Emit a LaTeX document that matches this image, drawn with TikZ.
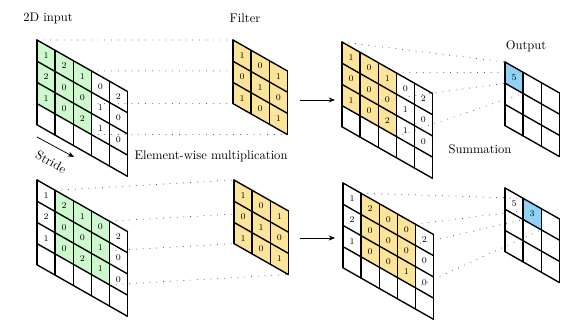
\documentclass[tikz,border=0pt]{standalone}
\usepackage{tikz}
\usetikzlibrary{arrows.meta,positioning,calc,backgrounds}
\definecolor{cellgreen}{RGB}{198,247,198}
\definecolor{cellyellow}{RGB}{251,224,136}
\definecolor{cellblue}{RGB}{126,203,246}
\definecolor{dotgray}{RGB}{55,55,65}

\tikzset{
  slant/.style={x={(18.1*0.28mm,-10.3*0.28mm)}, y={(0mm,-21.2*0.28mm)}},
  gridline/.style={line width=1.1pt, line cap=round},
  cell/.style={fill opacity=0.85},
  proj/.style={line width=0.75pt, dash pattern=on 0pt off 5.4pt, line cap=round, dotgray},
  num/.style={font=\scriptsize, inner sep=0pt},
  title/.style={inner sep=0pt},
  flow/.style={-{Stealth[length=5pt,width=4pt]}, line width=0.6pt},
}
% grid helpers, used inside a slant scope
\newcommand{\gridlines}[2]{%
  \foreach \i in {0,...,#1} \draw[gridline] (\i,0) -- (\i,#2);
  \foreach \j in {0,...,#2} \draw[gridline] (0,\j) -- (#1,\j);
}
\newcommand{\fillcells}[3]{%
  \foreach \i in {#2} \foreach \j in {#3}
    \fill[#1, cell] (\i,\j) -- ++(1,0) -- ++(0,1) -- ++(-1,0) -- cycle;
}
\newcommand{\cellnums}[2]{%
  \foreach \row [count=\j from 0] in {#2}
    \foreach \v [count=\i from 0] in \row
      \node[num] (#1-\i-\j) at (\i+0.5,\j+0.5) {\v};
}

\begin{document}
\begin{tikzpicture}[x=0.28mm, y=-0.28mm]
\useasboundingbox (0,0) rectangle (575,335);

% labels
\node[title] (lblinput) at (48,18) {2D input};
\node[title] (lblfilter) at (245,18) {Filter};
\node[title] (lbloutput) at (526,46) {Output};
\node[title] (lblmult) at (211,156) {Element-wise multiplication};
\node[title] (lblsum) at (480,149) {Summation};

% ---- first step ----
\begin{scope}[shift={(37,40)}, slant]
  \fillcells{cellgreen}{0,1,2}{0,1,2}
  \gridlines{5}{4}
  \cellnums{inA}{{1,2,1,0,2},{2,0,0,1,0},{1,0,2,1,0}}
  \coordinate (inA-nw) at (0,0);
  \coordinate (inA-ne) at (3,0);
  \coordinate (inA-sw) at (0,3);
  \coordinate (inA-se) at (3,3);
\end{scope}

\begin{scope}[shift={(233,40)}, slant]
  \fillcells{cellyellow}{0,1,2}{0,1,2}
  \gridlines{3}{3}
  \cellnums{filA}{{1,0,1},{0,1,0},{1,0,1}}
  \coordinate (filA-nw) at (0,0);
  \coordinate (filA-ne) at (3,0);
  \coordinate (filA-sw) at (0,3);
  \coordinate (filA-se) at (3,3);
\end{scope}

\begin{scope}[shift={(342,42)}, slant]
  \fillcells{cellyellow}{0,1,2}{0,1,2}
  \gridlines{5}{4}
  \cellnums{resA}{{1,0,1,0,2},{0,0,0,1,0},{1,0,2,1,0}}
  \coordinate (resA-nw) at (0,0);
  \coordinate (resA-ne) at (3,0);
  \coordinate (resA-sw) at (0,3);
  \coordinate (resA-se) at (3,3);
\end{scope}

\begin{scope}[shift={(505,62)}, slant]
  \fillcells{cellblue}{0}{0}
  \gridlines{3}{3}
  \cellnums{outA}{{5}}
  \coordinate (outA-nw) at (0,0);
  \coordinate (outA-ne) at (1,0);
  \coordinate (outA-sw) at (0,1);
  \coordinate (outA-se) at (1,1);
\end{scope}

\coordinate (arrA-s) at (300,100);
\coordinate (arrA-e) at (335,100);
\draw[flow] (arrA-s) -- (arrA-e);

\coordinate (strideS) at (37,137);
\coordinate (strideE) at (74,157);
\draw[flow] (strideS) -- (strideE);
\node[title, rotate=-29] (stride) at (51,162) {Stride};

% ---- second step ----
\begin{scope}[shift={(37,180)}, slant]
  \fillcells{cellgreen}{1,2,3}{0,1,2}
  \gridlines{5}{4}
  \cellnums{inB}{{1,2,1,0,2},{2,0,0,1,0},{1,0,2,1,0}}
  \coordinate (inB-nw) at (1,0);
  \coordinate (inB-ne) at (4,0);
  \coordinate (inB-sw) at (1,3);
  \coordinate (inB-se) at (4,3);
\end{scope}

\begin{scope}[shift={(234,180)}, slant]
  \fillcells{cellyellow}{0,1,2}{0,1,2}
  \gridlines{3}{3}
  \cellnums{filB}{{1,0,1},{0,1,0},{1,0,1}}
  \coordinate (filB-nw) at (0,0);
  \coordinate (filB-ne) at (3,0);
  \coordinate (filB-sw) at (0,3);
  \coordinate (filB-se) at (3,3);
\end{scope}

\begin{scope}[shift={(343,183)}, slant]
  \fillcells{cellyellow}{1,2,3}{0,1,2}
  \gridlines{5}{4}
  \cellnums{resB}{{1,2,0,0,2},{2,0,0,0,0},{1,0,0,1,0}}
  \coordinate (resB-nw) at (1,0);
  \coordinate (resB-ne) at (4,0);
  \coordinate (resB-sw) at (1,3);
  \coordinate (resB-se) at (4,3);
\end{scope}

\begin{scope}[shift={(505,188)}, slant]
  \fillcells{cellblue}{1}{0}
  \gridlines{3}{3}
  \cellnums{outB}{{5,3}}
  \coordinate (outB-nw) at (1,0);
  \coordinate (outB-ne) at (2,0);
  \coordinate (outB-sw) at (1,1);
  \coordinate (outB-se) at (2,1);
\end{scope}

\coordinate (arrB-s) at (300,238);
\coordinate (arrB-e) at (335,238);
\draw[flow] (arrB-s) -- (arrB-e);

% projection lines behind the grids
\begin{scope}[on background layer]
  \foreach \c in {nw,ne,sw,se} {
    \draw[proj] (inA-\c) -- (filA-\c);
    \draw[proj] (resA-\c) -- (outA-\c);
    \draw[proj] (inB-\c) -- (filB-\c);
    \draw[proj] (resB-\c) -- (outB-\c);
  }
\end{scope}
\end{tikzpicture}
\end{document}
